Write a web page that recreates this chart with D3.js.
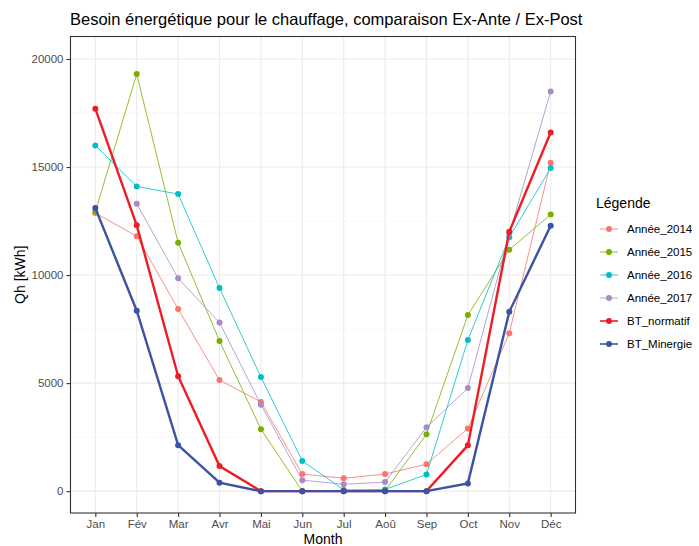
<!DOCTYPE html>
<html>
<head>
<meta charset="utf-8">
<script src="https://cdn.jsdelivr.net/npm/d3@7"></script>
<style>
  body { margin: 0; background: #fff; }
  text { font-family: "Liberation Sans", Arial, sans-serif; }
</style>
</head>
<body>
<svg width="699" height="546"></svg>
<script>
// months on the x axis
var months = ["Jan", "Fév", "Mar", "Avr", "Mai", "Jun", "Jul", "Aoû", "Sep", "Oct", "Nov", "Déc"];
var yTicks = [0, 5000, 10000, 15000, 20000];

// series values (null = no point)
var annee2014 = [12870, 11800, 8430, 5140, 4130, 790, 600, 790, 1250, 2900, 7310, 15200];
var annee2015 = [12930, 19300, 11500, 6950, 2870, 0, 20, 20, 2630, 8150, 11170, 12800];
var annee2016 = [16000, 14100, 13750, 9400, 5280, 1400, 60, 80, 770, 7000, 11750, 14950];
var annee2017 = [null, 13300, 9850, 7800, 4000, 510, 320, 420, 2960, 4770, 11900, 18500];
var btNormatif = [17700, 12300, 5320, 1160, 0, 0, 0, 0, 0, 2120, 12000, 16600];
var btMinergie = [13100, 8350, 2130, 390, 0, 0, 0, 0, 0, 360, 8300, 12280];

var seriesNames = ["Année_2014", "Année_2015", "Année_2016", "Année_2017", "BT_normatif", "BT_Minergie"];
var seriesValues = [annee2014, annee2015, annee2016, annee2017, btNormatif, btMinergie];
var seriesColors = ["#F8766D", "#7CAE00", "#00BFC4", "#A98BC8", "#EE1C25", "#3A53A4"];
var seriesWidths = [1, 1, 1, 1, 2.4, 2.4];

var svg = d3.select("svg");
var pLeft = 70.5, pRight = 575.5, pTop = 36.5, pBottom = 513;

var x = d3.scalePoint().domain(months).range([pLeft, pRight]).padding(0.6);
var y = d3.scaleLinear().domain([-1010, 21040]).range([pBottom, pTop]);

// title
svg.append("text").attr("x", 70).attr("y", 25).attr("font-size", 16.5).attr("fill", "#000")
  .text("Besoin énergétique pour le chauffage, comparaison Ex-Ante / Ex-Post");

// grid
var g = svg.append("g");
var minor = d3.range(2500, 21000, 5000);
g.selectAll(".minor").data(minor).enter().append("line")
  .attr("x1", pLeft).attr("x2", pRight).attr("y1", d => y(d)).attr("y2", d => y(d))
  .attr("stroke", "#f2f2f2").attr("stroke-width", 0.6);
g.selectAll(".majy").data(yTicks).enter().append("line")
  .attr("x1", pLeft).attr("x2", pRight).attr("y1", d => y(d)).attr("y2", d => y(d))
  .attr("stroke", "#ebebeb").attr("stroke-width", 1.1);
g.selectAll(".majx").data(months).enter().append("line")
  .attr("x1", d => x(d)).attr("x2", d => x(d)).attr("y1", pTop).attr("y2", pBottom)
  .attr("stroke", "#ebebeb").attr("stroke-width", 1.1);

// series
seriesValues.forEach(function(vals, i) {
  var pts = months.map((m, j) => ({m: m, v: vals[j]})).filter(d => d.v !== null);
  var line = d3.line().x(d => x(d.m)).y(d => y(d.v));
  svg.append("path").datum(pts).attr("d", line).attr("fill", "none")
    .attr("stroke", seriesColors[i]).attr("stroke-width", seriesWidths[i])
    .attr("stroke-opacity", i < 4 ? 0.8 : 1);
  svg.selectAll(".p" + i).data(pts).enter().append("circle")
    .attr("cx", d => x(d.m)).attr("cy", d => y(d.v)).attr("r", 3)
    .attr("fill", seriesColors[i]);
});

// panel border
svg.append("rect").attr("x", pLeft).attr("y", pTop).attr("width", pRight - pLeft).attr("height", pBottom - pTop)
  .attr("fill", "none").attr("stroke", "#333").attr("stroke-width", 1.1);

// axes
var yAxis = svg.append("g").attr("transform", "translate(" + pLeft + ",0)")
  .call(d3.axisLeft(y).tickValues(yTicks).tickSize(4).tickPadding(3).tickFormat(d3.format("d")));
var xAxis = svg.append("g").attr("transform", "translate(0," + pBottom + ")")
  .call(d3.axisBottom(x).tickSize(4).tickPadding(3));
[xAxis, yAxis].forEach(function(a) {
  a.select(".domain").remove();
  a.selectAll("line").attr("stroke", "#333").attr("stroke-width", 1.1);
  a.selectAll("text").attr("fill", "#4d4d4d").attr("font-size", 11.5)
    .attr("font-family", "'Liberation Sans', Arial, sans-serif");
});

// axis titles
svg.append("text").attr("x", (pLeft + pRight) / 2).attr("y", 544).attr("text-anchor", "middle")
  .attr("font-size", 14).text("Month");
svg.append("text").attr("transform", "translate(25," + ((pTop + pBottom) / 2) + ") rotate(-90)")
  .attr("text-anchor", "middle").attr("font-size", 14).text("Qh [kWh]");

// legend
var leg = svg.append("g").attr("transform", "translate(596,0)");
leg.append("text").attr("x", 0).attr("y", 208).attr("font-size", 14).text("Légende");
seriesNames.forEach(function(n, i) {
  var yy = 229 + i * 23;
  leg.append("line").attr("x1", 4).attr("x2", 22).attr("y1", yy).attr("y2", yy)
    .attr("stroke", seriesColors[i]).attr("stroke-width", seriesWidths[i] > 1 ? 1.6 : 1)
    .attr("stroke-opacity", i < 4 ? 0.8 : 1);
  leg.append("circle").attr("cx", 13).attr("cy", yy).attr("r", 3).attr("fill", seriesColors[i]);
  leg.append("text").attr("x", 31).attr("y", yy + 4).attr("font-size", 11.5).text(n);
});
</script>
</body>
</html>
